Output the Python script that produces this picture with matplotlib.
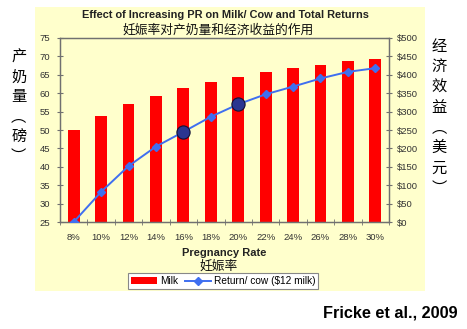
import matplotlib.pyplot as plt
import matplotlib.patches as patches
import numpy as np

plt.rcParams['font.family'] = ['Liberation Sans', 'Noto Sans CJK SC', 'DejaVu Sans']

rates = ['8%', '10%', '12%', '14%', '16%', '18%', '20%', '22%', '24%', '26%', '28%', '30%']
milk = [50.1, 53.7, 57.0, 59.2, 61.3, 63.0, 64.5, 65.8, 66.8, 67.7, 68.7, 69.3]
returns = [0, 82, 152, 205, 245, 286, 320, 347, 368, 390, 408, 418]
highlight = [4, 6]  # 16% and 20%

cjk = ['Noto Sans CJK SC', 'DejaVu Sans']
bg = '#ffffcc'
axcol = '#707070'

fig = plt.figure(figsize=(4.67, 3.29), dpi=100)
fig.patch.set_facecolor('white')

# yellow chart panel
fig.patches.append(patches.Rectangle((0.075, 0.1155), 0.835, 0.863,
                                     transform=fig.transFigure, facecolor=bg,
                                     edgecolor='none', zorder=-5))

ax = fig.add_axes([0.1285, 0.3252, 0.7045, 0.5593])
ax.set_facecolor('none')
x = np.arange(len(rates))
ax.bar(x, milk, 0.43, color='#ff0000', label='Milk', zorder=2)
ax.set_xlim(-0.5, len(rates) - 0.5)
ax.set_ylim(25, 75)
ax.set_yticks(np.arange(25, 76, 5))
ax.set_xticks(x)
ax.set_xticklabels(rates)
ax.set_xticks(np.arange(-0.5, len(rates), 1), minor=True)
ax.tick_params(axis='x', which='major', length=0, labelsize=6.8, colors='#333333', pad=8)
ax.tick_params(axis='x', which='minor', direction='inout', length=5, color=axcol)
ax.tick_params(axis='y', direction='inout', length=5, color=axcol, labelsize=6.8,
               labelcolor='#333333', pad=4.5)

ax2 = ax.twinx()
ax2.set_ylim(0, 500)
ax2.set_yticks(np.arange(0, 501, 50))
ax2.set_yticklabels(['\\$%d' % v for v in range(0, 501, 50)])
ax2.tick_params(axis='y', direction='inout', length=5, color=axcol, labelsize=6.8,
                labelcolor='#333333', pad=3.5)
ln, = ax2.plot(x, returns, color='#3f6ff0', lw=1.4, marker='D', ms=4,
               mfc='#3f6ff0', mec='#3f6ff0', label='Return/ cow (\\$12 milk)', zorder=3)
ax2.plot([x[i] for i in highlight], [returns[i] for i in highlight], 'o', ms=9.5,
         mfc='#2b3590', mec='#111133', mew=0.8, zorder=4)

for a in (ax, ax2):
    for s in a.spines.values():
        s.set_color(axcol)
        s.set_linewidth(0.9)

fig.text(0.482, 0.955, 'Effect of Increasing PR on Milk/ Cow and Total Returns',
         ha='center', va='center', fontsize=7.9, fontweight='bold', color='#222222')
fig.text(0.468, 0.907, '妊娠率对产奶量和经济收益的作用', ha='center', va='center',
         fontsize=9.2, family=cjk, color='#111111')

fig.text(0.04, 0.675, '\n'.join('产奶量︵磅︶'), ha='center', va='center',
         fontsize=11, family=cjk, linespacing=1.22)
fig.text(0.94, 0.643, '\n'.join('经济效益︵美元︶'), ha='center', va='center',
         fontsize=11, family=cjk, linespacing=1.25)

fig.text(0.481, 0.231, 'Pregnancy Rate', ha='center', va='center',
         fontsize=8, fontweight='bold', color='#222222')
fig.text(0.469, 0.192, '妊娠率', ha='center', va='center', fontsize=9.2, family=cjk,
         color='#111111')

bars = ax.containers[0]
leg = fig.legend([bars, ln], ['Milk', 'Return/ cow (\\$12 milk)'], loc='center',
                 bbox_to_anchor=(0.478, 0.146), ncol=2, fontsize=7.3, frameon=True,
                 fancybox=False, edgecolor='#888888', facecolor='white', framealpha=1,
                 handlelength=2.6, handletextpad=0.3, columnspacing=0.6,
                 borderpad=0.25, handleheight=0.6)
leg.get_frame().set_linewidth(0.8)

fig.text(0.98, 0.048, 'Fricke et al., 2009', ha='right', va='center',
         fontsize=11.7, fontweight='bold', color='black')

fig.savefig('out.png', dpi=100)
